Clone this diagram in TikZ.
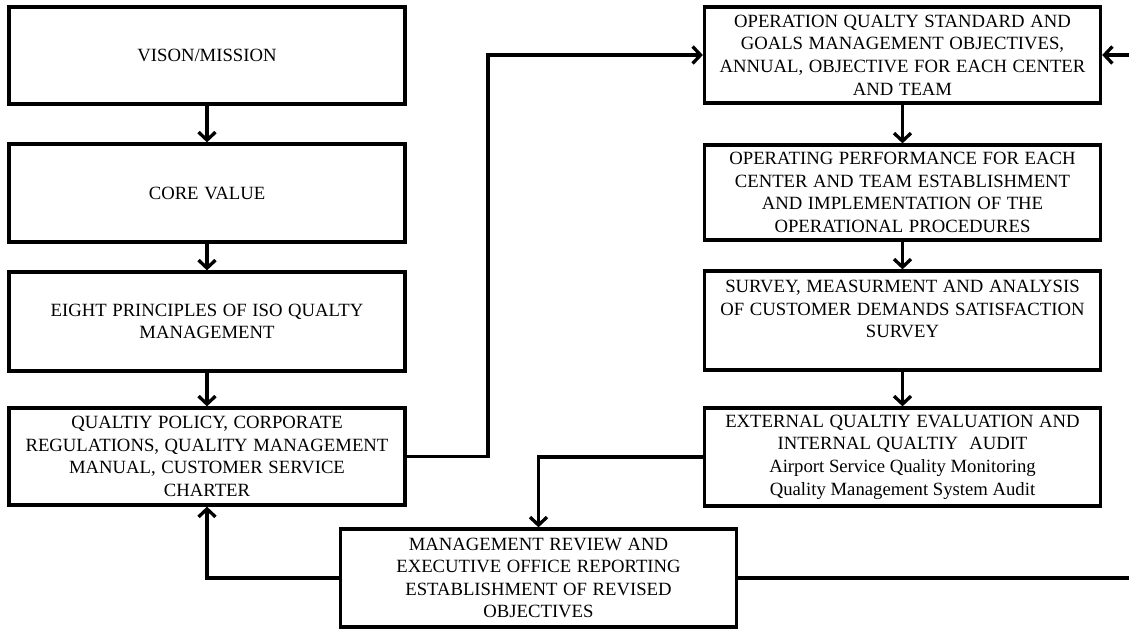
\documentclass[tikz,border=0pt]{standalone}
\usepackage{fontspec}
\setmainfont{Liberation Serif}
\usetikzlibrary{arrows.meta}
\newcommand{\boxfont}{\fontsize{18.7}{22.6}\selectfont\spaceskip=0.3em plus 0.1em}
\begin{document}
\begin{tikzpicture}[x=1pt,y=-1pt,
  box/.style={draw=black,line width=3.3pt,rectangle,minimum width=396pt,minimum height=97pt,
    align=center,font=\boxfont,inner sep=0pt},
  conn/.style={draw=black,line width=3.3pt,-{Straight Barb[length=8pt,width=17pt]}},
  plain/.style={draw=black,line width=3.3pt}]
\useasboundingbox[fill=white] (0,0) rectangle (1129,630);
% left column
\node[box] (b1) at (207,55.5) {VISON/MISSION};
\node[box,minimum height=98pt] (b2) at (207,193) {CORE VALUE};
\node[box,minimum height=99pt] (b3) at (207,321.5) {EIGHT PRINCIPLES OF ISO QUALTY\\MANAGEMENT};
\node[box] (b4) at (207,456.5) {QUALTIY POLICY, CORPORATE\\REGULATIONS, QUALITY MANAGEMENT\\MANUAL, CUSTOMER SERVICE\\CHARTER};
% right column
\node[box,minimum height=96pt] (r1) at (902.5,55) {OPERATION QUALTY STANDARD AND\\GOALS MANAGEMENT OBJECTIVES,\\ANNUAL, OBJECTIVE FOR EACH CENTER\\AND TEAM};
\node[box,minimum height=95pt] (r2) at (902.5,192.5) {OPERATING PERFORMANCE FOR EACH\\CENTER AND TEAM ESTABLISHMENT\\AND IMPLEMENTATION OF THE\\OPERATIONAL PROCEDURES};
\node[box,minimum height=99pt] (r3) at (902.5,320.5) {SURVEY, MEASURMENT AND ANALYSIS\\OF CUSTOMER DEMANDS SATISFACTION\\SURVEY\\\mbox{}};
\node[box,minimum height=98pt] (r4) at (902.5,457) {EXTERNAL QUALTIY EVALUATION AND\\INTERNAL QUALTIY\ \ AUDIT\\{\spaceskip=0.25em Airport Service Quality Monitoring}\\{\spaceskip=0.25em Quality Management System Audit}};
% management
\node[box,minimum height=98pt] (m) at (538.5,578) {MANAGEMENT REVIEW AND\\EXECUTIVE OFFICE REPORTING\\ESTABLISHMENT OF REVISED\\OBJECTIVES};
\coordinate (edge) at (1140,0);
% connectors
\draw[conn] (b1) -- (b2);
\draw[conn] (b2) -- (b3);
\draw[conn] (b3) -- (b4);
\draw[conn] (r1) -- (r2);
\draw[conn] (r2) -- (r3);
\draw[conn] (r3) -- (r4);
\draw[conn] (b4.east) -- (488,456.5) |- (r1.west);
\draw[conn] (r4.west) -| (m.north);
\draw[conn] (m.west) -| (b4.south);
\draw[conn] (m.east) -- (m.east -| edge) |- (r1.east);
\end{tikzpicture}
\end{document}
